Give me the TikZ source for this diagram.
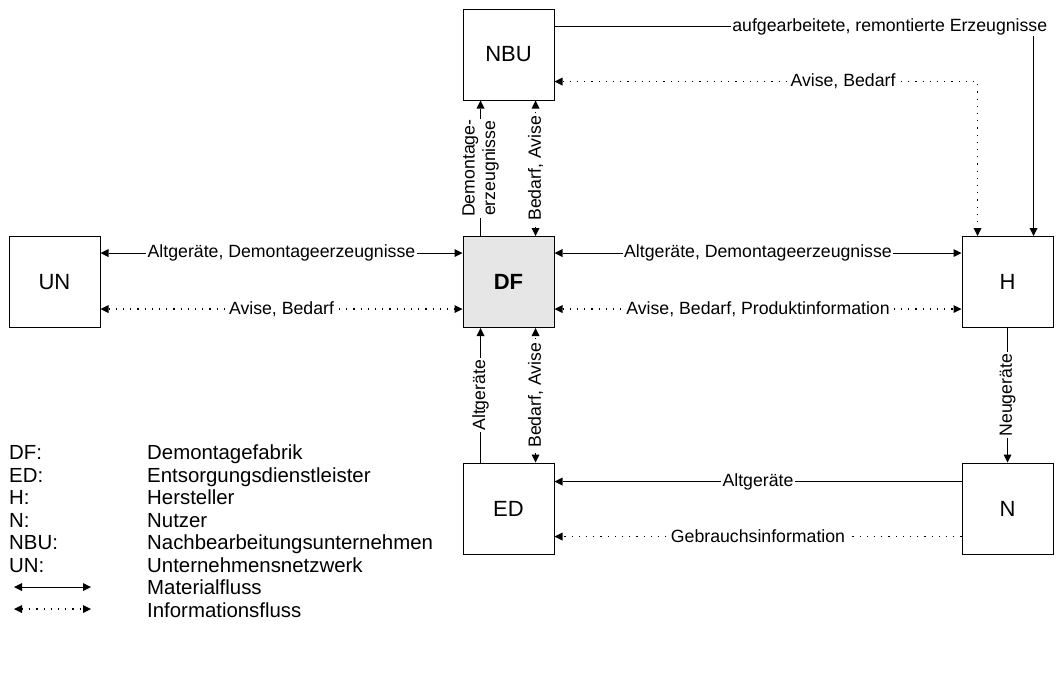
\documentclass[tikz,border=0pt]{standalone}
\usepackage{fontspec}
\setmainfont{Liberation Sans}
\usetikzlibrary{arrows.meta,calc}
\newcommand\labfont{\fontsize{17.7}{20.5}\selectfont}
\newcommand\boxfont{\fontsize{22}{26}\selectfont}
\newcommand\legfont{\fontsize{20.4}{24}\selectfont}
\tikzset{
  box/.style={draw, line width=1pt, minimum width=91pt, minimum height=91pt, inner sep=0pt, font=\boxfont, fill=white},
  mat/.style={line width=0.9pt},
  inf/.style={line width=1.3pt, dash pattern=on 1.2pt off 6pt},
  lab/.style={fill=white, inner sep=1.5pt, font=\labfont},
  leg/.style={anchor=base west, inner sep=0pt, font=\legfont},
  ah/.tip={Triangle[length=8pt,width=8pt,line width=0pt]},
}
\begin{document}
\begin{tikzpicture}[x=1pt,y=-1pt]
\useasboundingbox (0,0) rectangle (1058,681);
% boxes
\node[box] (NBU) at (508.5,54.5) {NBU};
\node[box] (UN) at (54.5,282) {UN};
\node[box, fill={rgb,255:red,230;green,230;blue,230}] (DF) at (508.5,282) {\bfseries DF};
\node[box] (H) at (1007.5,282) {H};
\node[box] (ED) at (508.5,508.5) {ED};
\node[box] (N) at (1007.5,508.5) {N};
% UN - DF
\draw[mat,ah-ah] ([yshift=-17pt]UN.north east) -- node[lab]{Altgeräte, Demontageerzeugnisse} ([yshift=-17pt]DF.north west);
\draw[inf,ah-ah] ([yshift=-73pt]UN.north east) -- node[lab]{Avise, Bedarf} ([yshift=-73pt]DF.north west);
% DF - H
\draw[mat,ah-ah] ([yshift=-17pt]DF.north east) -- node[lab]{Altgeräte, Demontageerzeugnisse} ([yshift=-17pt]H.north west);
\draw[inf,ah-ah] ([yshift=-73pt]DF.north east) -- node[lab]{Avise, Bedarf, Produktinformation} ([yshift=-73pt]H.north west);
% DF - NBU
\draw[mat,-ah] ([xshift=18pt]DF.north west) -- node[lab,rotate=90,align=center,inner sep=1pt]{Demontage-\\erzeugnisse} ([xshift=18pt]NBU.south west);
\draw[inf,ah-ah] ([xshift=73pt]DF.north west) -- node[lab,rotate=90]{Bedarf, Avise} ([xshift=73pt]NBU.south west);
% ED - DF
\draw[mat,-ah] ([xshift=18pt]ED.north west) -- node[lab,rotate=90]{Altgeräte} ([xshift=18pt]DF.south west);
\draw[inf,ah-ah] ([xshift=73pt]ED.north west) -- node[lab,rotate=90]{Bedarf, Avise} ([xshift=73pt]DF.south west);
% H - N
\draw[mat,-ah] (H.south) -- node[lab,rotate=90]{Neugeräte} (N.north);
% N - ED
\draw[mat,-ah] ([yshift=-19pt]N.north west) -- node[lab]{Altgeräte} ([yshift=-19pt]ED.north east);
\draw[inf,-ah] ([yshift=-74pt]N.north west) -- node[lab]{Gebrauchsinformation} ([yshift=-74pt]ED.north east);
% NBU - H
\draw[mat,-ah] ([yshift=-18pt]NBU.north east) -| node[lab,pos=0.35]{aufgearbeitete, remontierte Erzeugnisse} ([xshift=72pt]H.north west);
\draw[inf,ah-ah] ([yshift=-73pt]NBU.north east) -| node[lab,pos=0.341]{Avise, Bedarf} ([xshift=16pt]H.north west);
% legend
\node[leg] (l1) at (9,459.5) {DF:};
\node[leg] (l2) at (9,482) {ED:};
\node[leg] (l3) at (9,504.5) {H:};
\node[leg] (l4) at (9,527) {N:};
\node[leg] (l5) at (9,549.5) {NBU:};
\node[leg] (l6) at (9,572) {UN:};
\node[leg] (r1) at (147,459.5) {Demontagefabrik};
\node[leg] (r2) at (147,482) {Entsorgungsdienstleister};
\node[leg] (r3) at (147,504.5) {Hersteller};
\node[leg] (r4) at (147,527) {Nutzer};
\node[leg] (r5) at (147,549.5) {Nachbearbeitungsunternehmen};
\node[leg] (r6) at (147,572) {Unternehmensnetzwerk};
\node[leg] (r7) at (147,594.5) {Materialfluss};
\node[leg] (r8) at (147,617) {Informationsfluss};
\coordinate (m1) at (14,587);
\coordinate (m2) at (91,587);
\coordinate (i1) at (14,609);
\coordinate (i2) at (91,609);
\draw[mat,ah-ah] (m1) -- (m2);
\draw[inf,ah-ah] (i1) -- (i2);
\end{tikzpicture}
\end{document}
